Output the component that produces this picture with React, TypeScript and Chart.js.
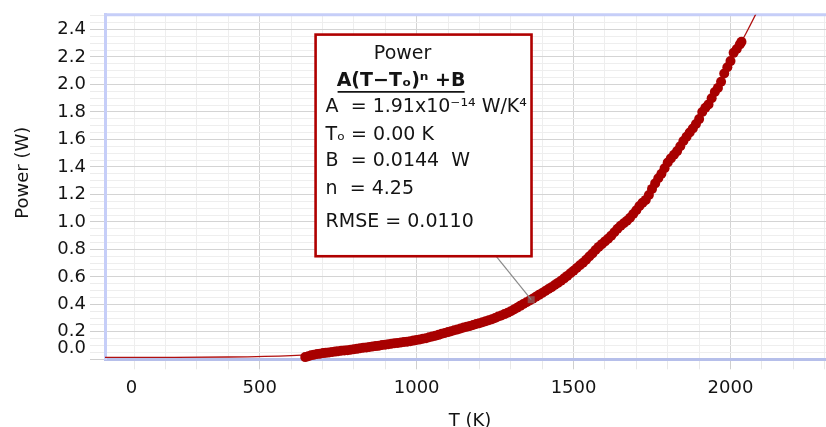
import React, { useEffect, useRef } from 'react';
import { Chart, registerables } from 'chart.js';

Chart.register(...registerables);

// ---- measured data (T in K, Power in W) ----
const tempK = [
  645, 655, 664, 673, 683, 692, 702, 711, 721, 731, 741, 750, 760, 770, 780, 790, 800, 810, 820, 830,
  840, 850, 860, 870, 880, 890, 900, 910, 920, 930, 940, 950, 960, 970, 980, 990, 1000, 1010, 1020, 1030,
  1040, 1050, 1060, 1070, 1080, 1090, 1100, 1110, 1120, 1130, 1140, 1150, 1160, 1170, 1180, 1190, 1200, 1210, 1220, 1230,
  1240, 1250, 1260, 1270, 1280, 1290, 1300, 1310, 1320, 1330, 1340, 1350, 1360, 1370, 1380, 1390, 1400, 1410, 1420, 1430,
  1440, 1450, 1460, 1470, 1480, 1490, 1500, 1510, 1520, 1530, 1540, 1550, 1560, 1570, 1580, 1590, 1600, 1610, 1620, 1630,
  1640, 1650, 1660, 1670, 1680, 1690, 1700, 1710, 1720, 1730, 1740, 1750, 1760, 1770, 1780, 1790, 1800, 1810, 1820, 1830,
  1840, 1850, 1860, 1870, 1880, 1890, 1900, 1910, 1920, 1930, 1940, 1950, 1960, 1970, 1980, 1990, 2000, 2010, 2020, 2030, 2035,
];
const powerW = [
  0.016, 0.022, 0.030, 0.034, 0.038, 0.041, 0.045, 0.047, 0.050, 0.054, 0.056, 0.058, 0.062, 0.064, 0.066, 0.070, 0.073, 0.076, 0.080, 0.084,
  0.086, 0.089, 0.094, 0.096, 0.099, 0.104, 0.106, 0.110, 0.113, 0.117, 0.119, 0.122, 0.126, 0.128, 0.131, 0.136, 0.140, 0.144, 0.149, 0.153,
  0.160, 0.166, 0.171, 0.178, 0.186, 0.191, 0.198, 0.204, 0.211, 0.217, 0.224, 0.231, 0.237, 0.243, 0.250, 0.257, 0.263, 0.270, 0.277, 0.284,
  0.292, 0.301, 0.311, 0.319, 0.329, 0.339, 0.350, 0.362, 0.375, 0.389, 0.402, 0.415, 0.428, 0.441, 0.455, 0.469, 0.482, 0.497, 0.511, 0.525,
  0.541, 0.556, 0.572, 0.589, 0.607, 0.626, 0.645, 0.665, 0.684, 0.703, 0.725, 0.748, 0.770, 0.795, 0.818, 0.838, 0.858, 0.878, 0.900, 0.925,
  0.950, 0.972, 0.990, 1.008, 1.030, 1.058, 1.085, 1.115, 1.140, 1.160, 1.195, 1.240, 1.280, 1.318, 1.350, 1.390, 1.432, 1.462, 1.488, 1.515,
  1.550, 1.588, 1.620, 1.650, 1.680, 1.712, 1.748, 1.800, 1.830, 1.855, 1.900, 1.945, 1.975, 2.020, 2.080, 2.125, 2.170, 2.230, 2.258, 2.292, 2.310,
];

// ---- fitted curve as drawn ----
const fitT = [0, 200, 400, 600, 700, 800, 900, 1000, 1100, 1200, 1300, 1400, 1500, 1600, 1700, 1800, 1900, 2000, 2050, 2100];
const fitP = [0.0144, 0.0145, 0.0166, 0.027, 0.040, 0.062, 0.098, 0.135, 0.196, 0.263, 0.350, 0.482, 0.645, 0.858, 1.085, 1.432, 1.748, 2.170, 2.375, 2.600];

// ---- axes ----
const xMajorLabels = [0, 500, 1000, 1500, 2000];
const yMajorLabels = [0, 0.2, 0.4, 0.6, 0.8, 1.0, 1.2, 1.4, 1.6, 1.8, 2.0, 2.2, 2.4];
const X_MIN = 7;
const X_MAX = 2333;
const Y_MIN = 0;
const Y_MAX = 2.507;

// ---- annotation text ----
const boxTitle = 'Power';
const boxFormula = 'A(T\u2212T\u2092)\u207F +B';
const boxLines = [
  'A  = 1.91x10\u207B\u00B9\u2074 W/K\u2074',
  'T\u2092 = 0.00 K',
  'B  = 0.0144  W',
  'n  = 4.25',
  'RMSE = 0.0110',
];

// annotation anchor (data coordinates)
const BOX = { t0: 678, t1: 1366, p0: 2.363, p1: 0.75 };
const LEADER = { t0: 1253, t1: 1365, p1: 0.434 };

const FONT = 'DejaVu Sans';
const TEXT = '#141414';

const isXMajor = (v: number) => xMajorLabels.some((u) => Math.abs(u - v) < 1e-6);
const isYMajor = (v: number) => yMajorLabels.some((u) => Math.abs(u - v) < 1e-6);

const framePlugin = {
  id: 'frameTop',
  beforeDatasetsDraw(chart: any) {
    const { ctx, chartArea: a } = chart;
    ctx.save();
    ctx.strokeStyle = '#c6cef8';
    ctx.lineWidth = 3;
    ctx.beginPath();
    ctx.moveTo(a.left, a.top);
    ctx.lineTo(a.right + 10, a.top);
    ctx.stroke();
    ctx.restore();
  },
};

const annotationPlugin = {
  id: 'fitBox',
  afterDraw(chart: any) {
    const { ctx } = chart;
    const x = chart.scales.x;
    const y = chart.scales.y;
    const l = x.getPixelForValue(BOX.t0);
    const r = x.getPixelForValue(BOX.t1);
    const t = y.getPixelForValue(BOX.p0);
    const b = y.getPixelForValue(BOX.p1);
    ctx.save();
    // leader line
    const lx0 = x.getPixelForValue(LEADER.t0);
    const lx1 = x.getPixelForValue(LEADER.t1);
    const ly1 = y.getPixelForValue(LEADER.p1);
    ctx.strokeStyle = '#8a8a8a';
    ctx.lineWidth = 1.2;
    ctx.beginPath();
    ctx.moveTo(lx0, b);
    ctx.lineTo(lx1, ly1);
    ctx.stroke();
    ctx.fillStyle = 'rgba(130,130,130,0.55)';
    ctx.fillRect(lx1 - 3.5, ly1 - 3.5, 7, 7);
    // box
    ctx.fillStyle = '#ffffff';
    ctx.fillRect(l, t, r - l, b - t);
    ctx.strokeStyle = '#b00000';
    ctx.lineWidth = 2.6;
    ctx.strokeRect(l, t, r - l, b - t);
    // text
    ctx.fillStyle = TEXT;
    ctx.textBaseline = 'middle';
    ctx.textAlign = 'center';
    ctx.font = `19px "${FONT}"`;
    ctx.fillText(boxTitle, l + 87, t + 19.4);
    ctx.font = `bold 19px "${FONT}"`;
    ctx.fillText(boxFormula, l + 85.5, t + 46.8);
    ctx.strokeStyle = TEXT;
    ctx.lineWidth = 1.6;
    ctx.beginPath();
    ctx.moveTo(l + 22, t + 57.3);
    ctx.lineTo(l + 149, t + 57.3);
    ctx.stroke();
    ctx.textAlign = 'left';
    ctx.font = `19px "${FONT}"`;
    const offs = [72.8, 100.1, 126.8, 154.4, 187.8];
    boxLines.forEach((s, i) => ctx.fillText(s, l + 10, t + offs[i]));
    ctx.restore();
  },
};

export default function App() {
  const ref = useRef<HTMLCanvasElement | null>(null);

  useEffect(() => {
    if (!ref.current) return;
    document.body.style.margin = '0';
    Chart.defaults.font.family = FONT;
    const chart = new Chart(ref.current, {
      type: 'scatter',
      data: {
        datasets: [
          {
            label: 'Power',
            data: tempK.map((t, i) => ({ x: t, y: powerW[i] })),
            pointRadius: 5,
            pointBackgroundColor: '#a80000',
            pointBorderColor: '#a80000',
            pointBorderWidth: 0,
            showLine: false,
            clip: false as any,
          },
          {
            label: 'Fit',
            data: fitT.map((t, i) => ({ x: t, y: fitP[i] })),
            showLine: true,
            borderColor: '#b01010',
            borderWidth: 1.3,
            pointRadius: 0,
            cubicInterpolationMode: 'monotone',
          },
        ],
      },
      options: {
        animation: false,
        responsive: false,
        devicePixelRatio: 1,
        layout: { padding: { top: 12.8, right: 2.5, bottom: 0, left: 0 } },
        plugins: { legend: { display: false }, tooltip: { enabled: false } },
        scales: {
          x: {
            type: 'linear',
            position: 'bottom',
            min: X_MIN,
            max: X_MAX,
            afterBuildTicks: (scale: any) => {
              const ticks = [];
              for (let v = 0; v <= 2300; v += 100) ticks.push({ value: v });
              scale.ticks = ticks;
            },
            afterFit: (scale: any) => {
              scale.height = 67.7;
            },
            grid: {
              color: (c: any) =>
                !c.tick || c.tick.value < X_MIN ? 'rgba(0,0,0,0)' : isXMajor(c.tick.value) ? '#d4d4d4' : '#eeeeee',
              tickColor: (c: any) =>
                !c.tick || c.tick.value < X_MIN ? 'rgba(0,0,0,0)' : isXMajor(c.tick.value) ? '#cfcfcf' : '#e8e8e8',
              lineWidth: 1,
              tickLength: 10,
            },
            border: { display: true, color: '#b6bfea', width: 3 },
            ticks: {
              autoSkip: false,
              maxRotation: 0,
              minRotation: 0,
              padding: 8,
              color: TEXT,
              font: { size: 18, family: FONT },
              callback: (v: any) => {
                if (!isXMajor(v)) return '';
                return v === 0 ? ' '.repeat(10) + '0' : String(v);
              },
            },
            title: {
              display: true,
              text: 'T (K)',
              color: TEXT,
              font: { size: 18, family: FONT },
              padding: { top: 0, bottom: -5 },
            },
          },
          y: {
            type: 'linear',
            min: Y_MIN,
            max: Y_MAX,
            afterBuildTicks: (scale: any) => {
              const ticks = [];
              for (let i = 0; i <= 50; i++) ticks.push({ value: Math.round(i * 5) / 100 });
              scale.ticks = ticks;
            },
            afterFit: (scale: any) => {
              scale.width = 105;
            },
            grid: {
              color: (c: any) => (c.tick && isYMajor(c.tick.value) ? '#d4d4d4' : '#eeeeee'),
              tickColor: (c: any) => (c.tick && isYMajor(c.tick.value) ? '#cfcfcf' : '#ececec'),
              lineWidth: 1,
              tickLength: 15,
            },
            border: { display: true, color: '#c6cef8', width: 3 },
            ticks: {
              autoSkip: false,
              padding: 4,
              color: TEXT,
              font: { size: 18, family: FONT },
              callback: (v: any) => {
                if (!isYMajor(v)) return '';
                return v === 0 ? ['0.0', ''] : Number(v).toFixed(1);
              },
            },
            title: {
              display: true,
              text: '     Power (W)',
              color: TEXT,
              font: { size: 18, family: FONT },
              padding: { top: 13, bottom: 0 },
            },
          },
        },
      },
      plugins: [framePlugin, annotationPlugin],
    });
    return () => chart.destroy();
  }, []);

  return (
    <div style={{ position: 'absolute', left: 0, top: 0, width: 826, height: 427, overflow: 'hidden', background: '#fff' }}>
      <canvas ref={ref} width={840} height={427} style={{ width: 840, height: 427, display: 'block' }} />
    </div>
  );
}
